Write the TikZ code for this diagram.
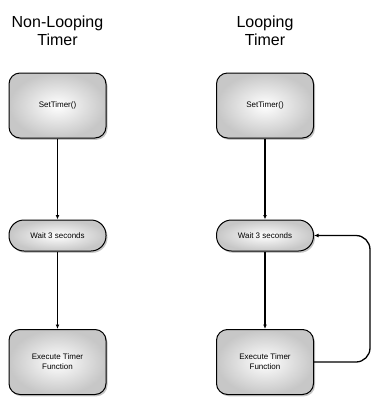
\documentclass[tikz,border=0pt]{standalone}
\usepackage{fontspec}
\setmainfont{Liberation Sans}
\usetikzlibrary{shadows,arrows.meta}

\begin{document}
\begin{tikzpicture}[x=1pt,y=-1pt,
  stepbox/.style={draw=black, line width=1pt, rounded corners=11pt,
    minimum width=97pt, minimum height=65pt, inner sep=2pt,
    inner color=white, outer color=black!22,
    drop shadow={shadow xshift=1.5pt, shadow yshift=-1.8pt, opacity=0.45},
    font=\fontsize{8}{10}\selectfont, align=center},
  pill/.style={stepbox, rounded corners=15pt, minimum height=31pt},
  title/.style={font=\fontsize{16}{18.5}\selectfont, align=center},
  link/.style={draw=black, line width=1.3pt, -{Latex[length=4.5pt,width=3.8pt]}}
]
\useasboundingbox (0,0) rectangle (374,397);

% headings
\node[title] (t1) at (57.5,31) {Non-Looping\\Timer};
\node[title] (t2) at (265,31) {Looping\\Timer};

% non-looping column
\node[stepbox] (set1) at (57.5,105.5) {SetTimer()};
\node[pill]    (wait1) at (57.5,235.5) {Wait 3 seconds};
\node[stepbox] (exe1) at (57.5,362) {Execute Timer\\Function};

% looping column
\node[stepbox] (set2) at (265,105.5) {SetTimer()};
\node[pill]    (wait2) at (265,235.5) {Wait 3 seconds};
\node[stepbox] (exe2) at (265,362) {Execute Timer\\Function};

\draw[link] (set1) -- (wait1);
\draw[link] (wait1) -- (exe1);
\draw[link] (set2) -- (wait2);
\draw[link] (wait2) -- (exe2);

% loop back from the timer function to the wait step
\coordinate (loopx) at (370,0);
\draw[link, rounded corners=14pt] (exe2.east) -- (exe2.east -| loopx) |- (wait2.east);
\end{tikzpicture}
\end{document}
